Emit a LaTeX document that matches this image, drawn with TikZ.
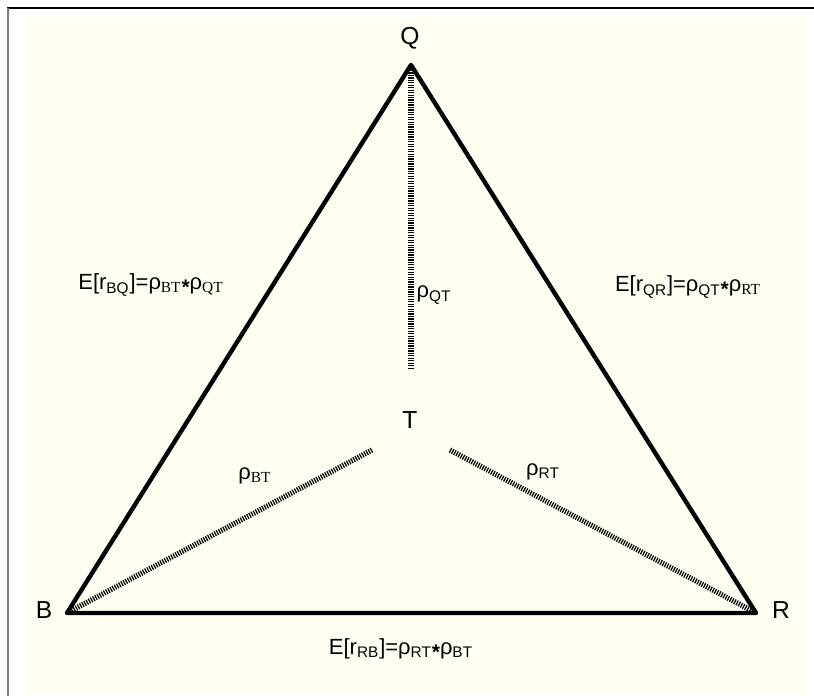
\documentclass[tikz,border=0pt]{standalone}
\usepackage{fontspec}
\setmainfont{Liberation Sans}
\newfontfamily\timesfont{Liberation Serif}
\definecolor{paper}{RGB}{255,255,242}
\definecolor{framegray}{RGB}{120,120,120}
\newcommand{\ssub}[1]{\textsubscript{#1}}
\newcommand{\tsub}[1]{\textsubscript{\timesfont #1}}
\newcommand{\prodstar}{\raisebox{-0.4ex}{\textbf{\large *}}}

\begin{document}
\begin{tikzpicture}[x=0.02cm, y=-0.02cm]
    \tikzstyle{side}=[line width=2.5pt, line join=round]
    \tikzstyle{corr}=[line width=3pt, dash pattern=on 0.7pt off 0.7pt]
    \tikzstyle{vertex}=[font=\fontsize{14}{16}\selectfont, inner sep=0pt]
    \tikzstyle{lbl}=[font=\fontsize{12.5}{15}\selectfont, inner sep=0pt]

    \useasboundingbox (0,0) rectangle (814,696);

    % Paper and frame
    \fill[paper] (26,17) rectangle (806,693);
    \draw[line width=1.2pt] (7,8) -- (814,8);
    \draw[framegray, line width=1.2pt] (8,8) -- (8,696);

    % Corners of the triangle
    \coordinate (q) at (411,65);
    \coordinate (b) at (67,613);
    \coordinate (r) at (756,613);
    \node[vertex] (Q) at (410,38) {Q};
    \node[vertex] (B) at (44,610) {B};
    \node[vertex] (R) at (781,610) {R};
    \node[vertex] (T) at (410,420) {T};

    % Sides
    \draw[side] (q) -- (r) -- (b) -- cycle;

    % Correlations with T
    \coordinate (qt) at (411,370);
    \coordinate (bt) at (372,450);
    \coordinate (rt) at (450,450);
    \draw[corr] (q) -- (qt);
    \draw[corr] (bt) -- (b);
    \draw[corr] (rt) -- (r);
    \node[lbl] (rhoqt) at (434,295) {ρ\ssub{QT}};
    \node[lbl] (rhobt) at (255,476) {ρ\tsub{BT}};
    \node[lbl] (rhort) at (543,472) {ρ\ssub{RT}};

    % Expected returns along the sides
    \node[lbl] (ebq) at (151,285) {E[r\ssub{BQ}]=ρ\tsub{BT}\prodstar ρ\tsub{QT}};
    \node[lbl] (eqr) at (688,287) {E[r\ssub{QR}]=ρ\ssub{QT}\prodstar ρ\tsub{RT}};
    \node[lbl] (erb) at (401,649) {E[r\ssub{RB}]=ρ\ssub{RT}\prodstar ρ\ssub{BT}};
\end{tikzpicture}
\end{document}
